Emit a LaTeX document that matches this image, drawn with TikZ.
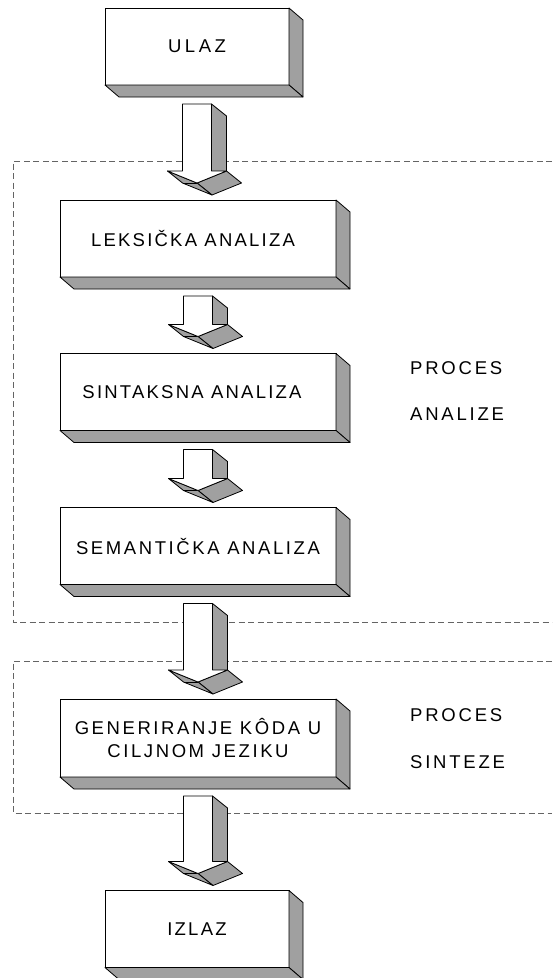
\documentclass[tikz,border=0pt]{standalone}
\usepackage{fontspec}
\setmainfont{Liberation Sans}
\usetikzlibrary{calc}

\definecolor{sidegray}{RGB}{160,160,160}
\definecolor{framegray}{RGB}{100,100,100}

\tikzset{
  spaced/.style={font=\fontsize{18.5}{23}\selectfont\addfontfeature{LetterSpace=#1}},
  stage/.style={draw=black, fill=white, line width=0.8pt, inner sep=0pt,
    outer sep=0pt, align=center, spaced=12},
  wide/.style={stage, minimum width=276pt, minimum height=77pt},
  narrow/.style={stage, minimum width=184pt, minimum height=77pt},
  side/.style={fill=sidegray, draw=black, line width=0.8pt, line join=round},
  front/.style={fill=white, draw=black, line width=0.8pt, line join=round},
  frame/.style={draw=framegray, line width=0.9pt, dash pattern=on 6pt off 3.5pt},
  phase/.style={anchor=west, inner sep=0pt, spaced=15}
}

% extruded right and bottom faces of a stage box
\newcommand\slabsides[1]{%
  \filldraw[side] (#1.north east) -- ++(14,12) -- ($(#1.south east)+(14,12)$)
    -- (#1.south east) -- cycle;
  \filldraw[side] (#1.south west) -- ++(14,12) -- ($(#1.south east)+(14,12)$)
    -- (#1.south east) -- cycle;
}

% solid 3D down arrow from box #1 to box #2
\newcommand\blockarrow[2]{%
  \coordinate (#1-#2-a) at ($(#1.south)+(0,19)$);
  \coordinate (#1-#2-m) at (#1-#2-a |- #2.north);
  \coordinate (#1-#2-b) at ($(#1-#2-m)+(0,-29)$);
  % shaft side
  \filldraw[side] ($(#1-#2-a)+(14.5,0)$) -- ($(#1-#2-a)+(29.5,12)$)
    -- ($(#1-#2-b)+(29.5,12)$) -- ($(#1-#2-b)+(14.5,0)$) -- cycle;
  % head, lower right face
  \filldraw[side] ($(#1-#2-b)+(0,12)$) -- ($(#1-#2-b)+(29.5,0)$)
    -- ($(#1-#2-b)+(44.5,12)$) -- ($(#1-#2-b)+(15,24)$) -- cycle;
  % head, lower left face
  \filldraw[side] ($(#1-#2-b)+(-29.5,0)$) -- ($(#1-#2-b)+(0,12)$)
    -- ($(#1-#2-b)+(15,24)$) -- ($(#1-#2-b)+(-14.5,12)$) -- cycle;
  \draw[side, fill=none] ($(#1-#2-b)+(-14.5,12)$) -- ($(#1-#2-b)+(0,12)$);
  % front face
  \filldraw[front] ($(#1-#2-a)+(-14.5,0)$) -- ($(#1-#2-a)+(14.5,0)$)
    -- ($(#1-#2-b)+(14.5,0)$) -- ($(#1-#2-b)+(29.5,0)$)
    -- ($(#1-#2-b)+(0,12)$) -- ($(#1-#2-b)+(-29.5,0)$)
    -- ($(#1-#2-b)+(-14.5,0)$) -- cycle;
}

\begin{document}
\begin{tikzpicture}[x=1pt, y=-1pt]
  \useasboundingbox (0,0) rectangle (552,978);

  % phase frames (open to the right)
  \draw[frame] (552,161) -- (13,161) -- (13,622) -- (552,622);
  \draw[frame] (552,661) -- (13,661) -- (13,813) -- (552,813);

  % stages
  \node[narrow, spaced=19] (ulaz)  at (197,46.5) {ULAZ};
  \node[wide]   (leks)  at (198,238.5) {LEKSIČKA ANALIZA\hspace*{10pt}};
  \node[wide]   (sint)  at (198,392) {SINTAKSNA ANALIZA\hspace*{12pt}};
  \node[wide, spaced=14]   (sem)   at (198,546) {SEMANTIČKA ANALIZA};
  \node[wide, spaced=14, minimum height=78pt] (gen) at (198,738)
    {GENERIRANJE KÔDA U\\CILJNOM JEZIKU};
  \node[narrow] (izlaz) at (197,929) {IZLAZ};

  \foreach \b in {ulaz,leks,sint,sem,gen,izlaz} {\slabsides{\b}}

  % flow between stages
  \blockarrow{ulaz}{leks}
  \blockarrow{leks}{sint}
  \blockarrow{sint}{sem}
  \blockarrow{sem}{gen}
  \blockarrow{gen}{izlaz}

  % phase labels
  \node[phase] (pa1) at (410,368) {PROCES};
  \node[phase] (pa2) at (410,414.5) {ANALIZE};
  \node[phase] (ps1) at (410,715) {PROCES};
  \node[phase] (ps2) at (410,762) {SINTEZE};
\end{tikzpicture}
\end{document}
